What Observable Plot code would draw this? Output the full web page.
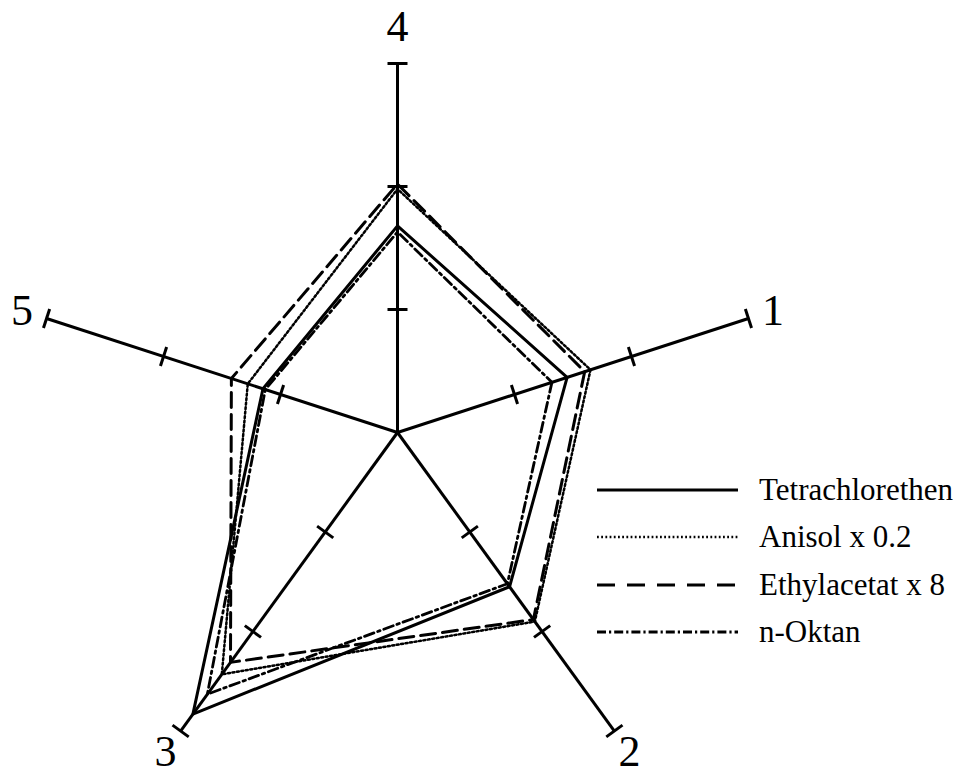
<!DOCTYPE html>
<html>
<head>
<meta charset="utf-8">
<script src="https://cdn.jsdelivr.net/npm/d3@7"></script>
<script src="https://cdn.jsdelivr.net/npm/@observablehq/plot@0.6"></script>
<style>
  body { margin: 0; background: #fff; }
  #chart { position: relative; width: 970px; height: 775px; }
  #legend { position: absolute; left: 597px; top: 466px; font-family: "Liberation Serif", "Times New Roman", serif; font-size: 31px; color: #000; }
  #legend .row { display: flex; align-items: center; height: 47.5px; }
  #legend svg { display: block; margin-right: 21px; }
</style>
</head>
<body>
<div id="chart"></div>
<script>
// Radar axes (labels) and their clockwise order starting at 18° above the horizontal
const axisNames = ["1", "2", "3", "4", "5"];
const axisOrder = ["1", "2", "3", "5", "4"];
const axisTicks = [1, 2, 3];

// Series names and their values on axes 1..5
const seriesNames = ["Tetrachlorethen", "Anisol x 0.2", "Ethylacetat x 8", "n-Oktan"];
const tetrachlorethen = [1.45, 1.55, 2.83, 1.68, 1.15];
const anisol = [1.65, 1.90, 2.43, 1.98, 1.28];
const ethylacetat = [1.60, 1.88, 2.31, 2.02, 1.42];
const nOktan = [1.32, 1.52, 2.63, 1.63, 1.13];

// Line styles for each series
const styles = [
  {strokeWidth: 3, dash: null, legendDash: null},
  {strokeWidth: 2.5, dash: "2,2.5", legendDash: "1.8,2.4"},
  {strokeWidth: 3, dash: "15,7", legendDash: "18,12"},
  {strokeWidth: 2.8, dash: "10,4,2.5,4", legendDash: "9,3,2.2,3"}
];

const W = 970, H = 775;
const cx = 397, cy = 432, unit = 123; // centre in px and px per unit

const angle = a => (18 - 72 * axisOrder.indexOf(a)) * Math.PI / 180;
const px = (r, a) => r * Math.cos(angle(a));
const py = (r, a) => r * Math.sin(angle(a));
// the top label sits a little further out than the others
const labelR = a => (a === "4" ? 3.3 : 3.21);

const seriesValues = [tetrachlorethen, anisol, ethylacetat, nOktan];
const rows = seriesNames.map((name, i) =>
  axisOrder.map(a => ({series: name, axis: a, value: seriesValues[i][axisNames.indexOf(a)]}))
);

const tickHalf = 10 / unit;
const tickRows = axisNames.flatMap(a => axisTicks.map(r => ({axis: a, r})));

const chart = Plot.plot({
  width: W,
  height: H,
  margin: 0,
  x: {domain: [-cx / unit, (W - cx) / unit], axis: null},
  y: {domain: [-(H - cy) / unit, cy / unit], axis: null},
  style: {background: "#fff", overflow: "visible"},
  marks: [
    // spokes
    Plot.link(axisNames, {
      x1: 0, y1: 0,
      x2: a => px(3, a), y2: a => py(3, a),
      stroke: "#000", strokeWidth: 3
    }),
    // tick marks and end caps
    Plot.link(tickRows, {
      x1: d => px(d.r, d.axis) + tickHalf * Math.sin(angle(d.axis)),
      y1: d => py(d.r, d.axis) - tickHalf * Math.cos(angle(d.axis)),
      x2: d => px(d.r, d.axis) - tickHalf * Math.sin(angle(d.axis)),
      y2: d => py(d.r, d.axis) + tickHalf * Math.cos(angle(d.axis)),
      stroke: "#000", strokeWidth: 3
    }),
    // series polygons
    ...rows.map((data, i) => Plot.line(data, {
      x: d => px(d.value, d.axis),
      y: d => py(d.value, d.axis),
      curve: "linear-closed",
      stroke: "#000",
      strokeWidth: styles[i].strokeWidth,
      strokeDasharray: styles[i].dash ?? undefined,
      strokeLinejoin: "miter"
    })),
    // axis labels
    Plot.text(axisNames, {
      x: a => px(labelR(a), a),
      y: a => py(labelR(a), a),
      text: d => d,
      fontSize: 44,
      fontFamily: "Liberation Serif, Times New Roman, serif",
      fill: "#000"
    })
  ]
});

const host = document.getElementById("chart");
host.appendChild(chart);

// Legend
const legend = document.createElement("div");
legend.id = "legend";
seriesNames.forEach((name, i) => {
  const row = document.createElement("div");
  row.className = "row";
  const svg = d3.create("svg").attr("width", 141).attr("height", 10);
  svg.append("line")
    .attr("x1", 0).attr("x2", 141).attr("y1", 5).attr("y2", 5)
    .attr("stroke", "#000")
    .attr("stroke-width", styles[i].strokeWidth)
    .attr("stroke-dasharray", styles[i].legendDash);
  row.appendChild(svg.node());
  const label = document.createElement("span");
  label.textContent = name;
  row.appendChild(label);
  legend.appendChild(row);
});
host.appendChild(legend);
</script>
</body>
</html>
